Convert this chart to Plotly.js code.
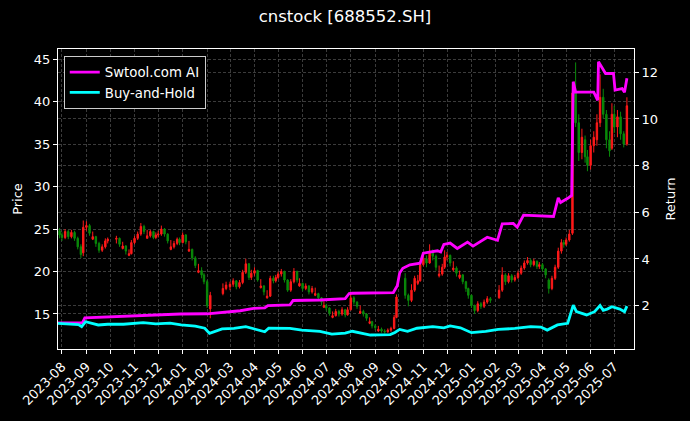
<!DOCTYPE html>
<html>
<head>
<meta charset="utf-8">
<script src="https://cdn.plot.ly/plotly-3.0.1.min.js"></script>
<style>html,body{margin:0;padding:0;background:#000;}#chart{width:690px;height:421px;}</style>
</head>
<body>
<div id="chart"></div>
<script>
// ---- candle data (price, left axis) ----
const dates = [
"2023-07-29",
"2023-08-01","2023-08-05","2023-08-09","2023-08-13","2023-08-17","2023-08-21","2023-08-25","2023-08-28",
"2023-09-01","2023-09-05","2023-09-09","2023-09-13","2023-09-17","2023-09-21","2023-09-25","2023-09-28",
"2023-10-09","2023-10-13","2023-10-17","2023-10-21","2023-10-25","2023-10-28",
"2023-11-01","2023-11-05","2023-11-09","2023-11-13","2023-11-17","2023-11-21","2023-11-25","2023-11-28",
"2023-12-01","2023-12-05","2023-12-09","2023-12-13","2023-12-17","2023-12-21","2023-12-25","2023-12-28",
"2024-01-01","2024-01-05","2024-01-09","2024-01-13","2024-01-17","2024-01-21","2024-01-25","2024-01-28",
"2024-02-01","2024-02-05","2024-02-21","2024-02-25",
"2024-03-01","2024-03-05","2024-03-09","2024-03-13","2024-03-17","2024-03-21","2024-03-25","2024-03-28",
"2024-04-01","2024-04-05","2024-04-09","2024-04-13","2024-04-17","2024-04-21","2024-04-25","2024-04-28",
"2024-05-01","2024-05-05","2024-05-09","2024-05-13","2024-05-17","2024-05-21","2024-05-25","2024-05-28",
"2024-06-01","2024-06-05","2024-06-09","2024-06-13","2024-06-17","2024-06-21","2024-06-25","2024-06-28",
"2024-07-01","2024-07-05","2024-07-09","2024-07-13","2024-07-17","2024-07-21","2024-07-25","2024-07-28",
"2024-08-01","2024-08-05","2024-08-09","2024-08-13","2024-08-17","2024-08-21","2024-08-25","2024-08-28",
"2024-09-01","2024-09-05","2024-09-09","2024-09-13","2024-09-17","2024-09-21","2024-09-25","2024-09-28",
"2024-10-09","2024-10-13","2024-10-17","2024-10-21","2024-10-25","2024-10-28",
"2024-11-01","2024-11-05","2024-11-09","2024-11-13","2024-11-17","2024-11-21","2024-11-25","2024-11-28",
"2024-12-01","2024-12-05","2024-12-09","2024-12-13","2024-12-17","2024-12-21","2024-12-25","2024-12-28",
"2025-01-01","2025-01-05","2025-01-09","2025-01-13","2025-01-17","2025-01-21","2025-01-25",
"2025-02-05","2025-02-09","2025-02-13","2025-02-17","2025-02-21","2025-02-25",
"2025-03-01","2025-03-05","2025-03-09","2025-03-13","2025-03-17","2025-03-21","2025-03-25","2025-03-28",
"2025-04-01","2025-04-05","2025-04-09","2025-04-13","2025-04-17","2025-04-21","2025-04-25","2025-04-28",
"2025-05-01","2025-05-05","2025-05-09","2025-05-13","2025-05-17","2025-05-21","2025-05-25","2025-05-28",
"2025-06-01","2025-06-05","2025-06-09","2025-06-13","2025-06-17","2025-06-21","2025-06-25","2025-06-28",
"2025-07-01","2025-07-05","2025-07-09","2025-07-13","2025-07-17"
];
const openP = [
24.8,
24.3,24.0,24.7,24.1,24.6,23.9,22.9,22.2,
25.2,25.4,23.8,24.1,23.3,22.5,22.9,23.6,
23.8,23.9,22.7,23.0,21.9,22.1,
23.4,23.9,24.4,25.3,23.9,24.2,24.7,24.0,
24.3,24.4,25.0,24.4,22.6,22.9,23.3,23.8,
23.4,24.3,22.4,22.6,21.6,19.9,20.1,19.6,
18.8,15.6,17.4,18.0,
18.2,18.5,18.9,18.2,18.7,19.9,20.9,19.3,
19.8,20.1,18.1,18.3,16.9,17.1,19.2,18.9,
19.3,19.7,20.0,19.0,17.8,18.8,20.0,18.3,
18.6,18.0,18.3,17.6,17.2,17.4,16.9,15.8,
16.0,15.7,14.6,14.8,15.3,15.0,15.5,14.9,
15.5,16.9,16.4,15.1,15.3,15.0,13.9,14.1,
13.6,13.0,13.2,13.0,12.9,13.1,13.3,14.6,
19.2,17.2,16.6,17.8,18.6,18.9,
20.8,21.5,21.0,22.4,21.8,19.5,19.7,20.5,
21.7,21.9,20.2,20.4,19.3,19.6,18.8,18.0,
17.2,16.0,15.4,16.2,15.9,16.4,16.8,
16.9,17.8,19.6,18.8,19.5,19.0,
19.3,19.8,20.4,21.0,21.3,20.8,21.2,20.6,
20.8,20.3,19.0,18.0,19.2,20.5,22.4,23.4,
23.2,23.7,24.5,41.0,37.5,34.0,35.5,33.5,
32.5,34.8,35.5,37.5,40.5,38.5,35.5,34.5,
38.5,37.0,38.2,36.2,35.0
];
const highP = [
25.1,
24.6,25.0,24.9,24.9,24.8,24.1,23.2,26.0,
25.9,25.6,24.7,24.2,23.5,23.2,23.9,24.0,
24.2,24.0,23.5,23.1,22.6,23.7,
24.2,24.7,25.7,25.5,24.9,24.9,24.8,24.6,
24.8,25.4,25.1,24.5,23.7,23.6,24.0,24.0,
24.6,24.4,23.6,22.7,21.8,20.9,20.5,19.8,
19.0,17.6,18.6,18.8,
18.8,19.2,19.0,19.0,20.2,21.5,21.0,20.2,
20.5,20.2,19.1,18.4,17.8,19.5,19.5,19.6,
20.0,20.3,20.1,19.1,19.1,20.4,20.1,19.2,
18.7,18.6,18.4,18.3,18.1,17.5,17.0,16.5,
16.2,15.8,15.3,15.6,15.5,15.8,15.6,15.8,
17.5,17.1,16.5,16.0,15.5,15.1,14.6,14.2,
13.8,13.6,13.4,13.2,13.3,13.5,14.9,17.3,
19.8,17.4,18.5,19.5,19.6,21.2,
22.0,21.9,23.2,22.6,22.0,20.7,20.9,22.5,
22.3,22.0,21.2,20.6,20.1,19.7,18.9,18.1,
17.3,16.1,16.5,16.4,16.7,17.1,17.0,
18.4,20.5,19.8,19.8,19.7,19.6,
20.1,20.7,21.3,21.7,21.5,21.5,21.3,21.1,
21.0,20.4,19.2,19.5,20.8,22.8,23.8,23.7,
24.0,24.9,42.0,44.6,38.5,36.8,36.0,34.3,
35.5,36.5,38.5,43.2,41.5,39.0,36.5,39.8,
39.5,39.0,38.8,36.5,40.5
];
const lowP = [
23.9,
23.6,23.8,23.8,23.9,23.6,22.6,21.6,21.8,
24.8,24.2,23.7,22.9,22.2,22.3,22.7,23.3,
23.3,22.9,22.6,22.0,21.8,22.0,
23.2,23.7,24.2,24.4,23.9,24.0,23.8,23.8,
24.0,24.2,24.1,23.3,22.5,22.7,23.1,23.1,
23.3,23.2,22.3,21.3,20.4,19.8,19.2,18.5,
15.7,14.5,17.2,17.8,
17.8,18.2,17.9,18.0,18.5,19.7,19.0,19.0,
19.5,18.8,18.0,17.2,16.8,17.0,18.6,18.7,
19.1,19.4,18.7,17.6,17.6,18.6,18.7,18.2,
17.7,17.8,17.3,17.4,17.1,16.6,16.0,15.7,
15.4,14.8,14.5,14.7,14.7,14.8,14.6,14.8,
15.4,16.1,15.6,15.0,14.7,14.2,13.8,13.3,
13.1,12.9,12.8,12.7,12.8,12.9,13.2,14.5,
16.8,15.9,16.4,17.6,18.4,18.8,
20.6,20.5,20.9,21.3,20.1,19.3,19.5,20.3,
21.3,20.6,20.0,19.4,19.1,18.5,17.6,16.8,
15.7,15.0,15.2,15.6,15.7,16.2,16.3,
16.8,17.6,18.4,18.6,18.7,18.8,
19.1,19.6,20.2,20.8,20.5,20.6,20.3,20.3,
20.0,19.2,17.4,17.8,19.0,20.3,22.1,22.8,
23.0,23.5,24.3,37.0,33.0,33.2,32.8,31.8,
32.0,34.0,34.8,37.0,38.0,34.5,33.5,34.3,
36.3,35.8,35.5,34.6,34.8
];
const closeP = [
24.3,
24.0,24.7,24.1,24.6,23.9,22.9,22.0,25.2,
25.4,24.5,24.1,23.3,22.5,22.9,23.6,23.8,
23.9,23.2,23.0,22.4,22.1,23.4,
23.9,24.4,25.3,24.7,24.2,24.7,24.0,24.3,
24.4,25.0,24.4,23.6,22.9,23.3,23.8,23.4,
24.3,23.5,22.6,21.6,20.7,20.1,19.6,18.8,
16.0,17.2,18.0,18.4,
18.5,18.9,18.2,18.7,19.9,20.9,19.3,19.8,
20.1,19.0,18.3,17.6,17.1,19.2,18.9,19.3,
19.7,20.0,19.0,17.8,18.8,20.0,19.0,18.6,
18.0,18.3,17.6,18.0,17.4,16.9,16.4,16.0,
15.7,15.1,14.8,15.3,15.0,15.5,14.9,15.5,
16.9,16.4,15.9,15.3,15.0,14.5,14.1,13.6,
13.4,13.2,13.0,12.9,13.1,13.3,14.6,17.0,
17.2,16.6,17.8,19.2,18.9,20.8,
21.5,21.0,22.4,21.8,20.5,19.7,20.5,21.7,
21.9,21.0,20.4,19.8,19.6,18.8,18.0,17.2,
16.0,15.4,16.2,15.9,16.4,16.8,16.6,
17.8,19.6,18.8,19.5,19.0,19.3,
19.8,20.4,21.0,21.3,20.8,21.2,20.6,20.8,
20.3,19.6,18.0,19.2,20.5,22.4,23.4,23.2,
23.7,24.4,41.0,37.5,34.0,35.8,33.5,32.5,
34.8,35.8,37.5,40.5,38.5,35.5,34.2,38.5,
37.0,38.2,36.2,35.0,39.5
];

// ---- strategy return (right axis) ----
const aiDates = [
"2023-07-27","2023-08-27","2023-08-30","2023-09-18","2023-10-26","2023-11-28","2023-12-29","2024-02-01",
"2024-02-20","2024-02-24","2024-03-14","2024-03-31","2024-04-14","2024-04-18","2024-05-16","2024-05-20",
"2024-06-23","2024-07-25","2024-07-30","2024-08-03","2024-09-24","2024-09-29","2024-10-02","2024-10-06",
"2024-10-15","2024-10-28","2024-11-01","2024-11-19","2024-11-23","2024-11-27","2024-12-05","2024-12-14",
"2024-12-27","2025-01-03","2025-01-16","2025-01-21","2025-02-03","2025-02-09","2025-02-23","2025-02-28",
"2025-03-08","2025-04-15","2025-04-21","2025-04-24","2025-05-03","2025-05-08","2025-05-10","2025-05-13",
"2025-06-05","2025-06-10","2025-06-11","2025-06-16","2025-06-20","2025-06-30","2025-07-02","2025-07-11",
"2025-07-14","2025-07-17"
];
const aiReturn = [
1.26,1.26,1.47,1.50,1.55,1.62,1.64,1.65,
1.72,1.74,1.78,1.88,1.90,2.00,2.03,2.22,
2.24,2.30,2.52,2.53,2.56,2.85,3.40,3.60,
3.75,3.82,4.25,4.35,4.30,4.62,4.68,4.45,
4.72,4.55,4.80,4.93,4.80,5.50,5.52,5.36,
5.88,5.82,6.62,6.42,6.60,6.72,11.60,11.15,
11.15,10.80,12.45,12.20,11.95,11.95,11.24,11.30,
11.15,11.75
];

// ---- buy-and-hold return (right axis) ----
const bhDates = [
"2023-07-27","2023-08-22","2023-08-26","2023-08-31","2023-09-16","2023-09-28","2023-10-18","2023-11-12",
"2023-11-28","2023-12-16","2023-12-30","2024-01-17","2024-01-29","2024-02-04","2024-02-20","2024-03-06",
"2024-03-21","2024-03-31","2024-04-14","2024-04-19","2024-05-16","2024-05-31","2024-06-23","2024-07-08",
"2024-07-25","2024-08-03","2024-08-26","2024-09-20","2024-09-26","2024-10-02","2024-10-12","2024-10-24",
"2024-11-13","2024-11-27","2024-12-05","2024-12-18","2025-01-01","2025-01-19","2025-02-04","2025-02-25",
"2025-03-17","2025-03-30","2025-04-07","2025-04-20","2025-05-03","2025-05-10","2025-05-14","2025-05-27",
"2025-06-06","2025-06-13","2025-06-17","2025-06-22","2025-06-28","2025-07-08","2025-07-14","2025-07-17"
];
const bhReturn = [
1.24,1.19,1.10,1.31,1.17,1.20,1.20,1.27,
1.22,1.25,1.17,1.12,1.03,0.81,1.00,1.02,
1.10,1.00,0.88,1.03,1.02,0.95,0.90,0.78,
0.82,0.90,0.74,0.76,0.85,0.98,0.90,1.03,
1.10,1.05,1.13,1.05,0.84,0.90,0.98,1.02,
1.10,1.08,0.95,1.17,1.24,2.02,1.74,1.60,
1.74,2.00,1.80,1.85,1.95,1.85,1.74,1.98
];

const titleText = "cnstock [688552.SH]";
const seriesNames = ["Swtool.com AI", "Buy-and-Hold"];

const font = "DejaVu Sans, Verdana, sans-serif";
const gridColor = "#4a4a4a";

const traces = [
  {
    type: "candlestick", x: dates, open: openP, high: highP, low: lowP, close: closeP,
    xaxis: "x", yaxis: "y", showlegend: false, hoverinfo: "skip",
    whiskerwidth: 0,
    increasing: {line: {color: "#ff1a1a", width: 1}, fillcolor: "#ff1a1a"},
    decreasing: {line: {color: "#0a8a0a", width: 1}, fillcolor: "#0a8a0a"}
  },
  {
    type: "scatter", mode: "lines", x: aiDates, y: aiReturn, name: seriesNames[0],
    xaxis: "x", yaxis: "y2", line: {color: "#ff00ff", width: 2.8}
  },
  {
    type: "scatter", mode: "lines", x: bhDates, y: bhReturn, name: seriesNames[1],
    xaxis: "x", yaxis: "y2", line: {color: "#00ffff", width: 2.8}
  }
];

const layout = {
  width: 690, height: 421,
  paper_bgcolor: "#000", plot_bgcolor: "#000",
  font: {family: font, color: "#fff", size: 13},
  margin: {l: 58, r: 56, t: 49, b: 72, pad: 0},
  title: {text: titleText, x: 0.5, xanchor: "center", y: 0.962, yanchor: "middle",
          font: {family: font, size: 16.5, color: "#fff"}},
  boxgap: 0.15,
  showlegend: true,
  legend: {x: 0.01, y: 0.977, xanchor: "left", yanchor: "top",
           bgcolor: "#000", bordercolor: "#cccccc", borderwidth: 1,
           font: {family: font, size: 13.3, color: "#fff"}, tracegroupgap: 0},
  xaxis: {
    type: "date", range: ["2023-07-27", "2025-07-26"],
    tick0: "2023-08-01", dtick: "M1", tickformat: "%Y-%m", tickangle: -45,
    ticks: "outside", ticklen: 4, tickcolor: "#fff", tickfont: {size: 13, color: "#fff"},
    showgrid: true, gridcolor: gridColor, griddash: "3px,2px", gridwidth: 0.8,
    showline: true, linecolor: "#fff", linewidth: 1, mirror: true,
    zeroline: false, rangeslider: {visible: false}
  },
  yaxis: {
    range: [10.88, 46.18], dtick: 5, tick0: 0,
    ticks: "outside", ticklen: 4, tickcolor: "#fff", tickfont: {size: 13, color: "#fff"},
    showgrid: true, gridcolor: gridColor, griddash: "3px,2px", gridwidth: 0.8,
    showline: true, linecolor: "#fff", linewidth: 1, mirror: true, zeroline: false,
    title: {text: "Price", font: {size: 13, color: "#fff"}, standoff: 8}
  },
  yaxis2: {
    overlaying: "y", side: "right", range: [0.14, 13.0], dtick: 2, tick0: 0,
    ticks: "outside", ticklen: 4, tickcolor: "#fff", tickfont: {size: 13, color: "#fff"},
    showgrid: true, gridcolor: gridColor, griddash: "3px,2px", gridwidth: 0.8,
    showline: true, linecolor: "#fff", linewidth: 1, zeroline: false,
    title: {text: "Return", font: {size: 13, color: "#fff"}, standoff: 8}
  }
};

Plotly.newPlot("chart", traces, layout, {displayModeBar: false, staticPlot: true});
</script>
</body>
</html>
